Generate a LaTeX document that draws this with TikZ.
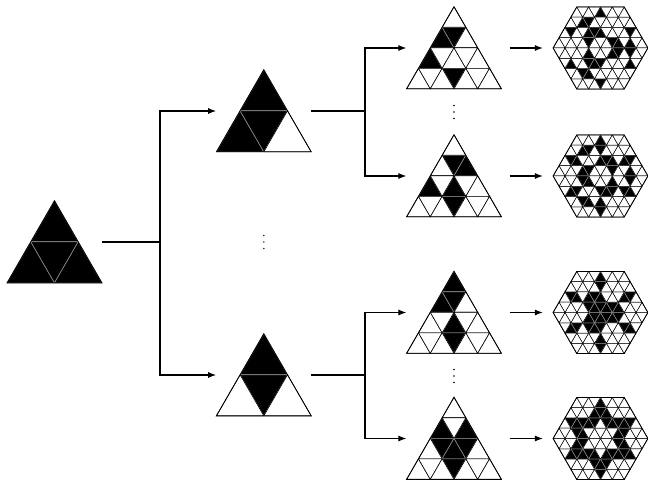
\documentclass[tikz,border=0pt]{standalone}
\usetikzlibrary{arrows.meta}

\tikzset{
  blackcell/.style={fill=black,draw=black!45,line width=0.6pt,line join=round},
  whitecell/.style={fill=white,draw=black,line width=0.6pt,line join=round},
  rim/.style={draw=black,line width=0.8pt,line join=miter},
  box/.style={inner sep=0pt,minimum width=94.8pt,minimum height=82.1pt},
  link/.style={draw=black,line width=1.1pt},
  arr/.style={link,-{Latex[length=8pt,width=6pt]}},
  dotmark/.style={fill=black},
  % the six triangles of a hexagonal patch, reflected from one to the next
  sec1/.style={},
  sec2/.style={rotate=120},
  sec3/.style={rotate=240},
  sec4/.style={yscale=-1},
  sec5/.style={rotate=120,yscale=-1},
  sec6/.style={rotate=240,yscale=-1},
}

% Cells of a triangle with its apex at the origin and unit cell side.
% #1: list of 0/1 flags, row by row, alternating up/down cells;
% #2: the flag value to draw; #3: style.
\newcommand\tricells[3]{%
  \edef\celllist{#1}%
  \foreach \c [count=\n from 0] in \celllist {%
    \ifnum\c=#2\relax
      \pgfmathtruncatemacro\rr{floor(sqrt(\n+0.5))+1}%
      \pgfmathtruncatemacro\pp{\n-(\rr-1)*(\rr-1)}%
      \pgfmathsetmacro\xl{(\pp-\rr)/2}%
      \pgfmathsetmacro\yt{-(\rr-1)*0.8660254}%
      \pgfmathsetmacro\yb{-\rr*0.8660254}%
      \ifodd\pp\relax
        \path[#3] (\xl,\yt) -- (\xl+1,\yt) -- (\xl+0.5,\yb) -- cycle;
      \else
        \path[#3] (\xl,\yb) -- (\xl+1,\yb) -- (\xl+0.5,\yt) -- cycle;
      \fi
    \fi
  }}

% Subdivided triangle: black cells first, white cells on top.
\newcommand\trimosaic[1]{%
  \tricells{#1}{1}{blackcell}%
  \tricells{#1}{0}{whitecell}}

% Hexagonal patch of six copies of a four-row triangle around its apex.
\newcommand\hexmosaic[1]{%
  \foreach \k in {1,...,6} {\begin{scope}[sec\k]\tricells{#1}{1}{blackcell,line width=0.5pt}\end{scope}}%
  \foreach \k in {1,...,6} {\begin{scope}[sec\k]\tricells{#1}{0}{whitecell,line width=0.5pt}\end{scope}}%
  \path[rim] (4,0) -- (2,3.4641) -- (-2,3.4641) -- (-4,0) -- (-2,-3.4641) -- (2,-3.4641) -- cycle;}

\newcommand\bigtri[1]{%
  \trimosaic{#1}%
  \path[rim] (0,0) -- (-2,-3.4641) -- (2,-3.4641) -- cycle;}

\newcommand\midtri[1]{%
  \trimosaic{#1}%
  \path[rim] (0,0) -- (-1,-1.7321) -- (1,-1.7321) -- cycle;}

% vertical ellipsis
\newcommand\vellipsis[1]{%
  \foreach \dy in {-6.5,0,6.5} \fill[dotmark] ([yshift=\dy pt]#1) circle (0.8pt);}

\def\patA{0, 1,1,0, 1,0,0,0,0, 0,0,0,1,0,0,0}
\def\patB{0, 0,1,1, 1,0,1,0,0, 0,0,0,1,0,0,0}
\def\patC{1, 1,1,0, 0,0,1,0,0, 0,0,0,1,0,0,0}
\def\patD{0, 1,0,1, 0,1,1,1,0, 0,0,0,1,0,0,0}

\begin{document}
\begin{tikzpicture}[x=1pt,y=1pt]
\useasboundingbox (0,0) rectangle (648,485);

% placeholders for every figure
\node[box] (l0) at (54.5,243) {};
\node[box] (m1) at (263.8,374) {};
\node[box] (m2) at (263.8,110) {};
\node[box] (t1) at (454,437) {};
\node[box] (t2) at (454,309) {};
\node[box] (t3) at (454,172.5) {};
\node[box] (t4) at (454,46.5) {};
\node[box] (h1) at (600.5,437) {};
\node[box] (h2) at (600.5,309) {};
\node[box] (h3) at (600.5,172.5) {};
\node[box] (h4) at (600.5,46.5) {};

% first level
\begin{scope}[shift={(l0.north)},scale=47.4]\midtri{1,1,1,1}\end{scope}
% second level
\begin{scope}[shift={(m1.north)},scale=47.4]\midtri{1,1,1,0}\end{scope}
\begin{scope}[shift={(m2.north)},scale=47.4]\midtri{1,0,1,0}\end{scope}
% third level
\begin{scope}[shift={(t1.north)},scale=23.7]\bigtri{\patA}\end{scope}
\begin{scope}[shift={(t2.north)},scale=23.7]\bigtri{\patB}\end{scope}
\begin{scope}[shift={(t3.north)},scale=23.7]\bigtri{\patC}\end{scope}
\begin{scope}[shift={(t4.north)},scale=23.7]\bigtri{\patD}\end{scope}
% hexagonal patches
\begin{scope}[shift={(h1.center)},scale=11.85]\hexmosaic{\patA}\end{scope}
\begin{scope}[shift={(h2.center)},scale=11.85]\hexmosaic{\patB}\end{scope}
\begin{scope}[shift={(h3.center)},scale=11.85]\hexmosaic{\patC}\end{scope}
\begin{scope}[shift={(h4.center)},scale=11.85]\hexmosaic{\patD}\end{scope}

% tree connectors
\coordinate (j0) at (160,243);
\coordinate (j1) at (365,374);
\coordinate (j2) at (365,110);
\draw[link] (l0.east) -- (j0);
\draw[arr] (j0) |- (m1.west);
\draw[arr] (j0) |- (m2.west);
\draw[link] (m1.east) -- (j1);
\draw[arr] (j1) |- (t1.west);
\draw[arr] (j1) |- (t2.west);
\draw[link] (m2.east) -- (j2);
\draw[arr] (j2) |- (t3.west);
\draw[arr] (j2) |- (t4.west);

% to the hexagons
\foreach \i in {1,...,4}
  \draw[arr] ([xshift=8pt]t\i.east) -- ([xshift=-10pt]h\i.west);

% omitted branches
\coordinate (d0) at (263.8,243);
\coordinate (d1) at (454,373);
\coordinate (d2) at (454,109);
\vellipsis{d0}
\vellipsis{d1}
\vellipsis{d2}
\end{tikzpicture}
\end{document}
